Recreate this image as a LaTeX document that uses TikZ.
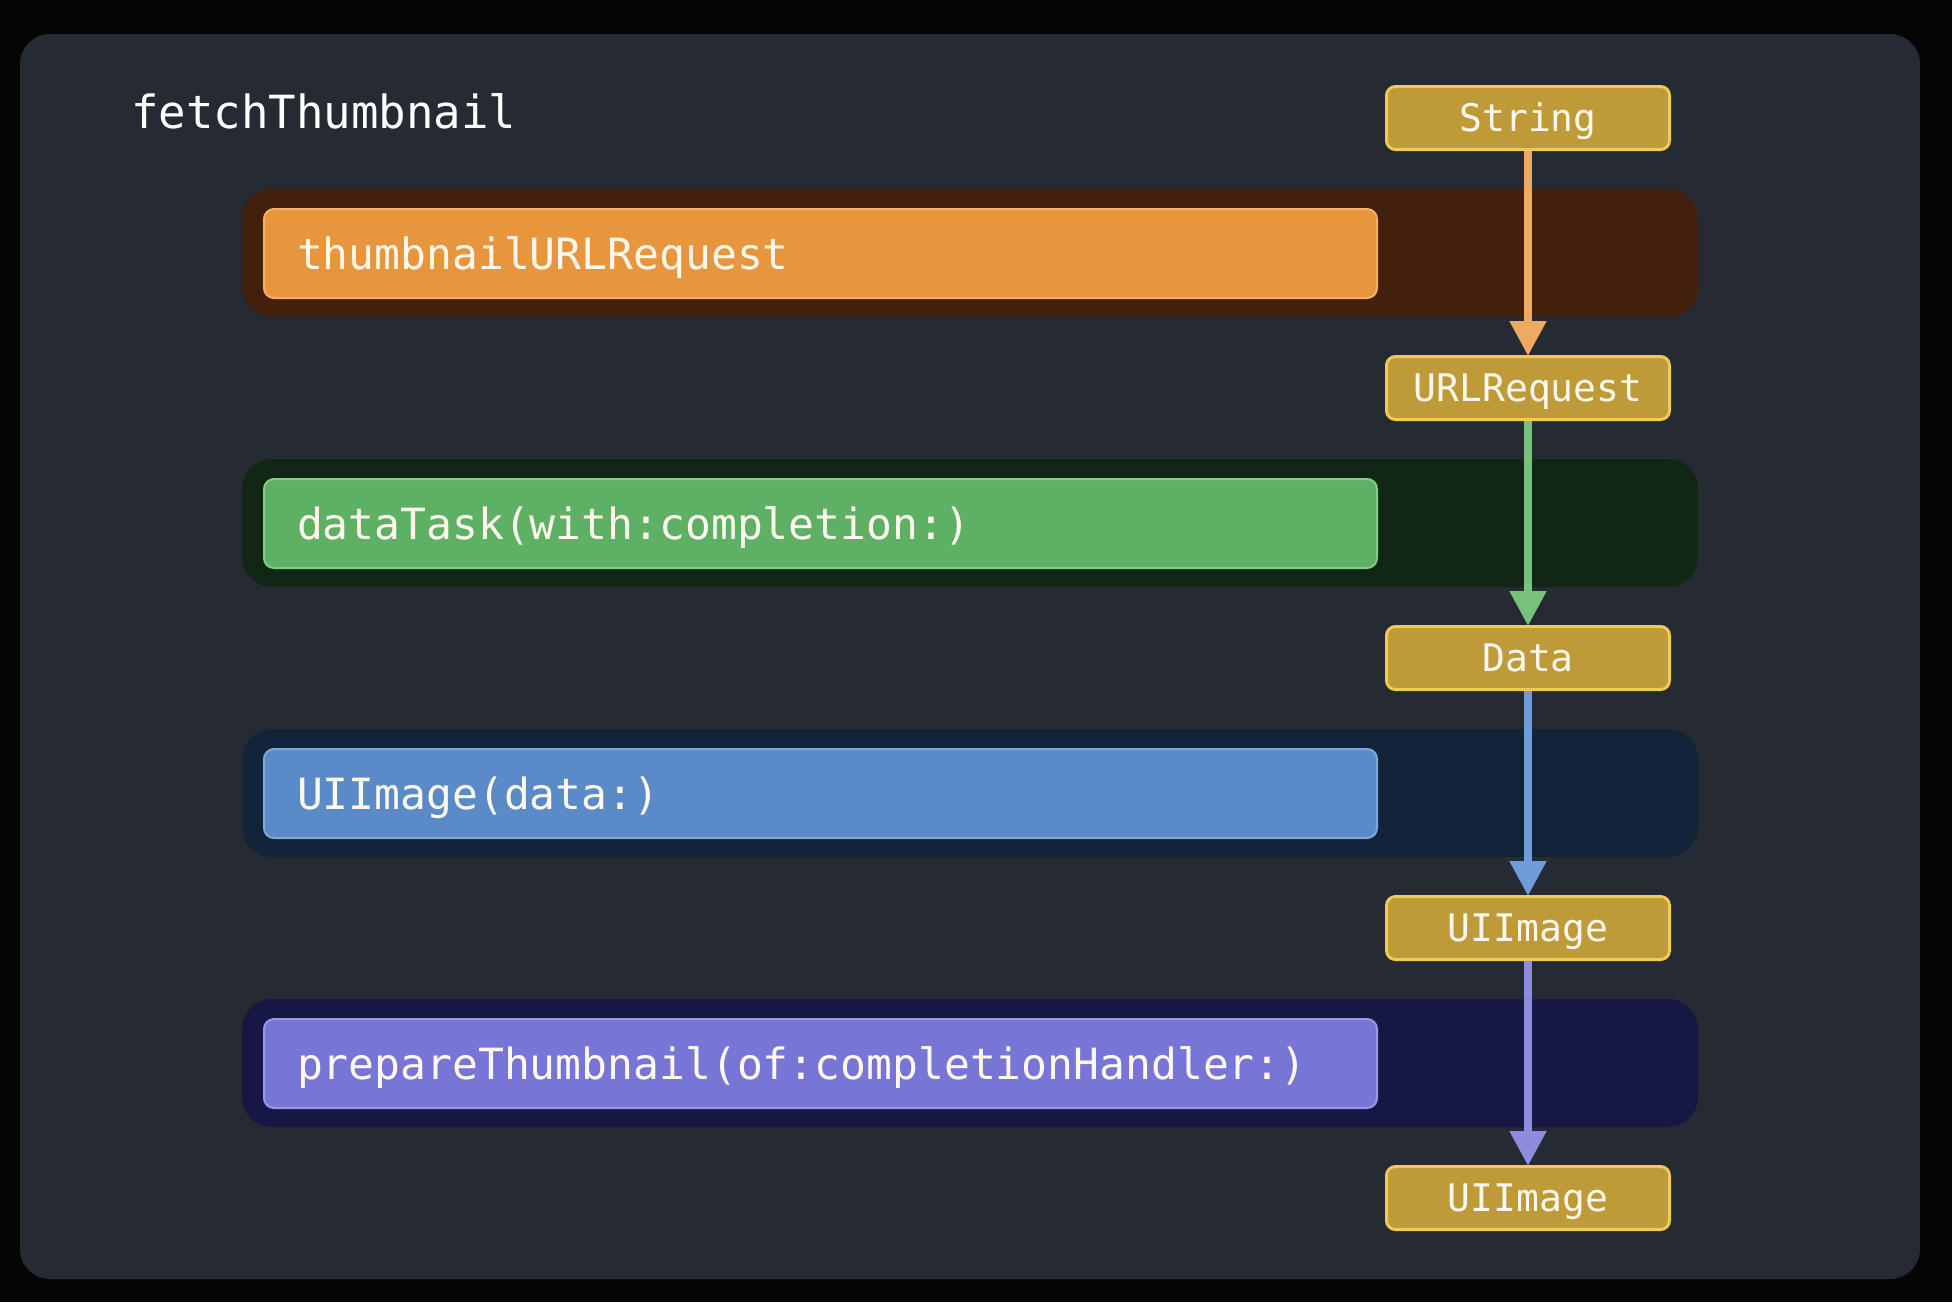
\documentclass[tikz,border=0pt]{standalone}
\usepackage{fontspec}
\setmonofont{DejaVu Sans Mono}
\usetikzlibrary{arrows.meta}
\definecolor{bgblack}{HTML}{050505}
\definecolor{panelc}{HTML}{262A33}
\definecolor{bandO}{HTML}{42200C}
\definecolor{boxO}{HTML}{E8963E}
\definecolor{edgeO}{HTML}{F4B068}
\definecolor{arrO}{HTML}{EEA962}
\definecolor{bandG}{HTML}{122615}
\definecolor{boxG}{HTML}{5EB164}
\definecolor{edgeG}{HTML}{84CA88}
\definecolor{arrG}{HTML}{77C27A}
\definecolor{bandB}{HTML}{132338}
\definecolor{boxB}{HTML}{5A8AC8}
\definecolor{edgeB}{HTML}{7EA8DC}
\definecolor{arrB}{HTML}{6F9DDA}
\definecolor{bandP}{HTML}{161843}
\definecolor{boxP}{HTML}{7775D5}
\definecolor{edgeP}{HTML}{9A98E4}
\definecolor{arrP}{HTML}{8E8CDD}
\definecolor{goldc}{HTML}{BF9A39}
\definecolor{goldedge}{HTML}{EECB58}
\definecolor{txtc}{HTML}{FFF8EE}
\begin{document}
\begin{tikzpicture}[x=1pt,y=-1pt,
  panelbox/.style={fill=panelc, rounded corners=30pt, minimum width=1900pt, minimum height=1245pt, inner sep=0pt},
  band/.style={rounded corners=30pt, minimum width=1456pt, minimum height=128pt, inner sep=0pt},
  fnbox/.style={rounded corners=10pt, line width=2pt, minimum height=89pt, inner xsep=33pt, inner ysep=0pt,
    text width=1047pt, align=left, text=txtc, font=\ttfamily\fontsize{43}{43}\selectfont,
    text height=31.3pt, text depth=0pt},
  typebox/.style={fill=goldc, draw=goldedge, line width=3pt, rounded corners=9pt, minimum width=283pt,
    minimum height=63pt, inner sep=0pt, text=txtc, font=\ttfamily\fontsize{38}{38}\selectfont,
    text height=27.7pt, text depth=0pt},
  flow/.style={line width=8pt, -{Triangle[width=35pt,length=35pt]}, shorten >=-1pt},
  titletext/.style={text=white, font=\ttfamily\fontsize{45.7}{45.7}\selectfont, inner sep=0pt}
]
\fill[bgblack] (0,0) rectangle (1952,1302);
\useasboundingbox (0,0) rectangle (1952,1302);
\node[panelbox] (panel) at (970,656.5) {};
\node[titletext, anchor=base west] (title) at (131,128) {fetchThumbnail};

\node[band, fill=bandO] (band1) at (970,253) {};
\node[band, fill=bandG] (band2) at (970,523) {};
\node[band, fill=bandB] (band3) at (970,793) {};
\node[band, fill=bandP] (band4) at (970,1063) {};

\node[fnbox, fill=boxO, draw=edgeO] (f1) at (820.5,253.5) {thumbnailURLRequest};
\node[fnbox, fill=boxG, draw=edgeG] (f2) at (820.5,523.5) {dataTask(with:completion:)};
\node[fnbox, fill=boxB, draw=edgeB] (f3) at (820.5,793.5) {UIImage(data:)};
\node[fnbox, fill=boxP, draw=edgeP] (f4) at (820.5,1063.5) {prepareThumbnail(of:completionHandler:)};

\node[typebox] (t0) at (1528,118) {String};
\node[typebox] (t1) at (1528,388) {URLRequest};
\node[typebox] (t2) at (1528,658) {Data};
\node[typebox] (t3) at (1528,928) {UIImage};
\node[typebox] (t4) at (1528,1198) {UIImage};

\draw[flow, arrO] (t0.south) -- (t1.north);
\draw[flow, arrG] (t1.south) -- (t2.north);
\draw[flow, arrB] (t2.south) -- (t3.north);
\draw[flow, arrP] (t3.south) -- (t4.north);
\end{tikzpicture}
\end{document}
